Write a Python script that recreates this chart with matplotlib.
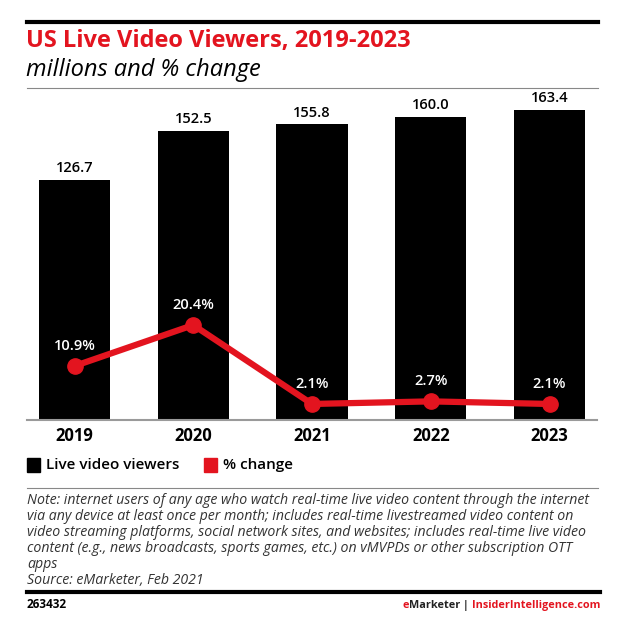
import matplotlib.pyplot as plt
from matplotlib.patches import Rectangle
from matplotlib.lines import Line2D

years = ['2019', '2020', '2021', '2022', '2023']
viewers = [126.7, 152.5, 155.8, 160.0, 163.4]
pct_change = [10.9, 20.4, 2.1, 2.7, 2.1]
viewer_labels = ['126.7', '152.5', '155.8', '160.0', '163.4']
pct_labels = ['10.9%', '20.4%', '2.1%', '2.7%', '2.1%']

note_lines = [
    'Note: internet users of any age who watch real-time live video content through the internet',
    'via any device at least once per month; includes real-time livestreamed video content on',
    'video streaming platforms, social network sites, and websites; includes real-time live video',
    'content (e.g., news broadcasts, sports games, etc.) on vMVPDs or other subscription OTT',
    'apps',
    'Source: eMarketer, Feb 2021',
]

RED = '#e3141f'
W, H = 630, 637
plt.rcParams['font.family'] = ['Open Sans', 'DejaVu Sans']


def fx(px):
    return px / W


def fy(py):
    return 1 - py / H


fig = plt.figure(figsize=(W / 100, H / 100), dpi=100)

# main axes: x 27..597, y 100..420 (pixels)
ax = fig.add_axes([fx(27), fy(420), fx(597) - fx(27), fy(100) - fy(420)])
x = list(range(len(years)))
ax.bar(x, viewers, width=0.6, color='black', zorder=2)
ax.set_xlim(-0.4, 4.4)
ax.set_ylim(0, 168.7)
for i, v in enumerate(viewers):
    ax.text(i, v + 2.5, viewer_labels[i], ha='center', va='bottom',
            fontsize=10.5, fontweight='semibold', color='black')

ax.set_xticks(x)
ax.set_xticklabels(years, fontsize=12, fontweight='bold')
ax.tick_params(axis='x', length=0, pad=5)
ax.set_yticks([])
for s in ['top', 'left', 'right']:
    ax.spines[s].set_visible(False)
ax.spines['bottom'].set_color('#9a9a9a')
ax.spines['bottom'].set_linewidth(1.5)

ax2 = ax.twinx()
ax2.set_ylim(-1.62, 72.6)
ax2.plot(x, pct_change, color=RED, linewidth=4.5, marker='o', markersize=11,
         solid_capstyle='round', zorder=3)
for i, p in enumerate(pct_change):
    ax2.text(i, p + 3.0, pct_labels[i], ha='center', va='bottom',
             fontsize=10.5, fontweight='semibold', color='white')
ax2.set_yticks([])
for s in ['top', 'left', 'right', 'bottom']:
    ax2.spines[s].set_visible(False)

# header
fig.add_artist(Line2D([fx(27), fx(598)], [fy(22), fy(22)], color='black', linewidth=3))
fig.text(fx(26), fy(41), 'US Live Video Viewers, 2019-2023', color=RED,
         fontsize=17, fontweight='bold', va='center', ha='left')
fig.text(fx(26), fy(70), 'millions and % change', color='black',
         fontsize=17, style='italic', va='center', ha='left')
fig.add_artist(Line2D([fx(27), fx(598)], [fy(88), fy(88)], color='#888888', linewidth=0.8))

# legend
fig.add_artist(Rectangle((fx(27), fy(472)), fx(13), fy(0) - fy(14), color='black'))
fig.text(fx(46), fy(465), 'Live video viewers', fontsize=11, fontweight='semibold',
         va='center', ha='left')
fig.add_artist(Rectangle((fx(204), fy(472)), fx(13), fy(0) - fy(14), color=RED))
fig.text(fx(223), fy(465), '% change', fontsize=11, fontweight='semibold',
         va='center', ha='left')
fig.add_artist(Line2D([fx(27), fx(598)], [fy(488), fy(488)], color='#888888', linewidth=0.8))

# notes
for k, line in enumerate(note_lines):
    fig.text(fx(27), fy(501 + k * 16), line, fontsize=10.2, style='italic',
             color='#333333', va='center', ha='left')

# footer
fig.add_artist(Line2D([fx(27), fx(600)], [fy(592), fy(592)], color='black', linewidth=3))
fig.text(fx(27), fy(608), '263432', fontsize=8.5, fontweight='bold', va='baseline', ha='left')

fig.canvas.draw()
r = fig.canvas.get_renderer()
right = fx(600)
pieces = [('InsiderIntelligence.com', RED), (' | ', '#222222'), ('Marketer', '#222222'), ('e', RED)]
for txt, col in pieces:
    t = fig.text(right, fy(608), txt, fontsize=7.8, fontweight='bold', color=col,
                 va='baseline', ha='right')
    bb = t.get_window_extent(renderer=r)
    right -= bb.width / W

fig.savefig('out.png', dpi=100)
